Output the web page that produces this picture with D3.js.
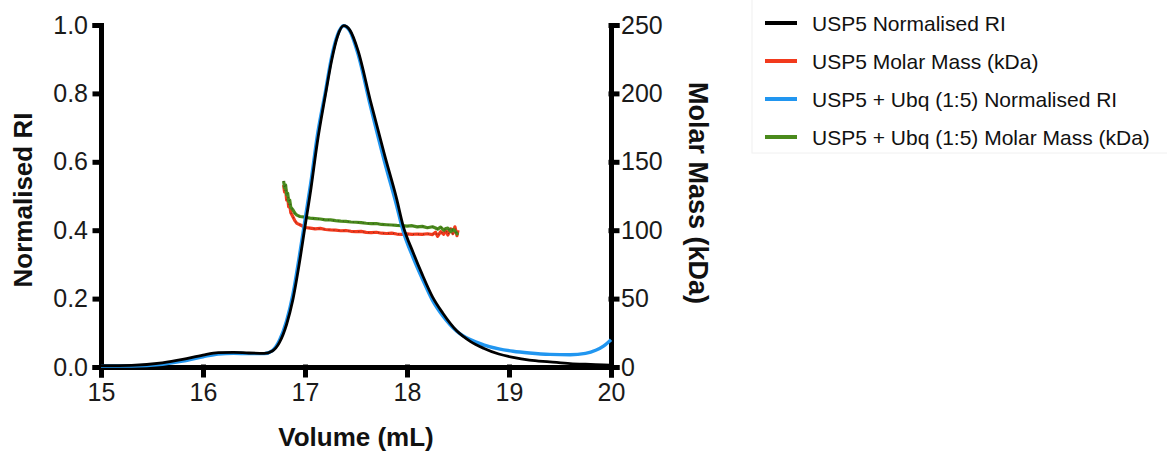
<!DOCTYPE html>
<html>
<head>
<meta charset="utf-8">
<script src="https://cdn.jsdelivr.net/npm/d3@7"></script>
<style>
  body { margin: 0; background: #fff; }
  svg { display: block; font-family: "Liberation Sans", Arial, sans-serif; }
  .axis path, .axis line { stroke: #000; stroke-width: 5; stroke-linecap: square; }
  .axis text { fill: #1a1a1a; font-size: 25px; }
</style>
</head>
<body>
<div id="chart"></div>
<script>
// Data
const riVolume = [15.0, 15.3, 15.6, 15.8, 16.0, 16.15, 16.3, 16.45, 16.6, 16.68, 16.75, 16.82, 16.88, 16.94,
  17.0, 17.06, 17.12, 17.2, 17.26, 17.32, 17.38, 17.44, 17.52, 17.64, 17.78, 17.9, 17.96, 18.06, 18.15, 18.25,
  18.35, 18.49, 18.62, 18.75, 18.9, 19.04, 19.2, 19.4, 19.6, 19.75, 19.85, 19.93, 20.0];
const usp5RI = [0.004, 0.005, 0.012, 0.022, 0.035, 0.042, 0.043, 0.041, 0.040, 0.047, 0.072, 0.125, 0.195, 0.295,
  0.41, 0.525, 0.655, 0.795, 0.895, 0.968, 0.998, 0.985, 0.925, 0.78, 0.62, 0.49, 0.415, 0.335, 0.27, 0.205,
  0.158, 0.105, 0.075, 0.055, 0.038, 0.028, 0.02, 0.015, 0.01, 0.008, 0.007, 0.006, 0.005];
const ubqRI = [0.003, 0.003, 0.008, 0.017, 0.03, 0.038, 0.04, 0.039, 0.039, 0.048, 0.078, 0.135, 0.21, 0.315,
  0.43, 0.545, 0.675, 0.805, 0.905, 0.972, 0.998, 0.982, 0.915, 0.765, 0.6, 0.47, 0.4, 0.32, 0.258, 0.195,
  0.15, 0.104, 0.08, 0.065, 0.053, 0.046, 0.041, 0.037, 0.036, 0.040, 0.049, 0.062, 0.08];

const mmVolume = [16.79, 16.80, 16.81, 16.82, 16.83, 16.84, 16.85, 16.86, 16.88, 16.90, 16.92, 16.95,
  17.0, 17.05, 17.1, 17.15, 17.2, 17.25, 17.3, 17.35, 17.4, 17.45, 17.5, 17.55, 17.6, 17.65, 17.7,
  17.75, 17.8, 17.85, 17.9, 17.95, 18.0, 18.05, 18.1, 18.15, 18.2, 18.25, 18.28, 18.3, 18.33, 18.36,
  18.38, 18.4, 18.43, 18.45, 18.47, 18.49, 18.5];
const usp5Mass = [133, 128, 130, 122, 124, 117, 119, 113, 110, 107, 105, 104,
  102, 101.5, 101, 101.3, 100.5, 100.2, 100, 99.6, 99.8, 99.2, 98.9, 99.1, 98.4, 98.2, 98.5,
  97.8, 97.6, 97.9, 97.2, 97.0, 97.3, 96.9, 97.2, 97.0, 97.4, 96.8, 98.5, 95.5, 99, 97,
  100.5, 96.5, 101, 97.5, 102.5, 96, 100];
const ubqMass = [136, 131, 133, 126, 127, 121, 122, 117, 115, 112.5, 111, 110,
  109.5, 108.8, 108.5, 108.2, 107.6, 107.5, 107, 106.6, 106.5, 106, 105.8, 105.5, 105.1, 104.8, 104.9,
  104.2, 104, 103.8, 103.5, 103.4, 103, 103.3, 102.4, 102.8, 101.8, 102.5, 101.6, 100.8, 102.3, 100,
  101.2, 101.5, 99, 100.5, 99.5, 97.5, 96.5];

const xTicks = [15, 16, 17, 18, 19, 20];
const riTicks = [0, 0.2, 0.4, 0.6, 0.8, 1.0];
const massTicks = [0, 50, 100, 150, 200, 250];

const legendItems = [
  { label: "USP5 Normalised RI", color: "#000000" },
  { label: "USP5 Molar Mass (kDa)", color: "#f23a1d" },
  { label: "USP5 + Ubq (1:5) Normalised RI", color: "#2196f0" },
  { label: "USP5 + Ubq (1:5) Molar Mass (kDa)", color: "#4a8a1c" }
];

const width = 1167, height = 452;
const svg = d3.select("#chart").append("svg").attr("width", width).attr("height", height);

//-----------------------------SCALES-----------------------------//
const x = d3.scaleLinear().domain([15, 20]).range([101, 611]);
const yRI = d3.scaleLinear().domain([0, 1]).range([367, 25]);
const yMass = d3.scaleLinear().domain([0, 250]).range([367, 25]);

//-----------------------------AXES-----------------------------//
svg.append("g").attr("class", "axis")
  .attr("transform", "translate(101,0)")
  .call(d3.axisLeft(yRI).tickValues(riTicks).tickFormat(d3.format(".1f")).tickSizeOuter(0).tickSize(6).tickPadding(7));

svg.append("g").attr("class", "axis")
  .attr("transform", "translate(611,0)")
  .call(d3.axisRight(yMass).tickValues(massTicks).tickSizeOuter(0).tickSize(6).tickPadding(4));

svg.append("g").attr("class", "axis")
  .attr("transform", "translate(0,367)")
  .call(d3.axisBottom(x).tickValues(xTicks).tickFormat(d3.format("d")).tickSizeOuter(0).tickSize(8).tickPadding(8));

// axis titles
svg.append("text")
  .attr("transform", "translate(32,200) rotate(-90)")
  .attr("text-anchor", "middle")
  .style("font-size", "26px").style("font-weight", "bold").style("fill", "#111")
  .text("Normalised RI");

svg.append("text")
  .attr("transform", "translate(689,193) rotate(90)")
  .attr("text-anchor", "middle")
  .style("font-size", "27px").style("font-weight", "bold").style("fill", "#111")
  .text("Molar Mass (kDa)");

svg.append("text")
  .attr("x", 356).attr("y", 446)
  .attr("text-anchor", "middle")
  .style("font-size", "26px").style("font-weight", "bold").style("fill", "#111")
  .text("Volume (mL)");

//----------------------------LINES-----------------------------//
const riLine = d3.line().curve(d3.curveMonotoneX)
  .x(d => x(d[0])).y(d => yRI(d[1]));
const massLine = d3.line()
  .x(d => x(d[0])).y(d => yMass(d[1]));

const massSeries = [
  { values: d3.zip(mmVolume, usp5Mass), color: legendItems[1].color },
  { values: d3.zip(mmVolume, ubqMass), color: legendItems[3].color }
];
massSeries.forEach(s => {
  svg.append("path").attr("d", massLine(s.values))
    .attr("fill", "none").attr("stroke", s.color).attr("stroke-width", 3.2)
    .attr("stroke-linejoin", "round");
  svg.append("path").attr("d", massLine(s.values))
    .attr("fill", "none").attr("stroke", "#222").attr("stroke-width", 1.2)
    .attr("stroke-dasharray", "1,4").attr("opacity", 0.5);
});

svg.append("path").attr("d", riLine(d3.zip(riVolume, ubqRI)))
  .attr("fill", "none").attr("stroke", legendItems[2].color).attr("stroke-width", 3.4);
svg.append("path").attr("d", riLine(d3.zip(riVolume, usp5RI)))
  .attr("fill", "none").attr("stroke", legendItems[0].color).attr("stroke-width", 2.8);

//---------------------------LEGEND-----------------------------//
svg.append("rect")
  .attr("x", 752).attr("y", -2).attr("width", 430).attr("height", 155)
  .attr("fill", "none").attr("stroke", "#f0f0f0").attr("stroke-width", 1);

const legend = svg.selectAll(".legend-item").data(legendItems).enter().append("g")
  .attr("class", "legend-item")
  .attr("transform", (d, i) => `translate(765,${23 + i * 38})`);

legend.append("line")
  .attr("x1", 0).attr("x2", 32).attr("y1", 0).attr("y2", 0)
  .attr("stroke", d => d.color).attr("stroke-width", 4);

legend.append("text")
  .attr("x", 47).attr("y", 0).attr("dy", "0.36em")
  .style("font-size", "21px").style("fill", "#111")
  .text(d => d.label);
</script>
</body>
</html>
